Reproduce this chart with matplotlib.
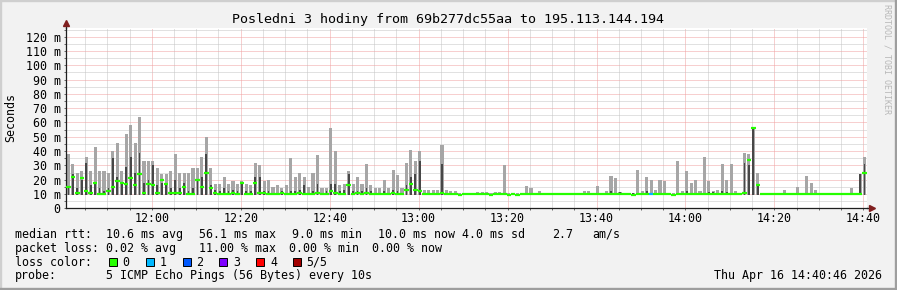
import numpy as np
import matplotlib
matplotlib.use("Agg")
import matplotlib.pyplot as plt
from matplotlib.patches import Rectangle
from matplotlib.lines import Line2D

# %% data (values in ms, one sample per minute starting 11:40:46)
start_time = "11:40:46"
x_labels = ["12:00", "12:20", "12:40", "13:00", "13:20", "13:40", "14:00", "14:20", "14:40"]
y_ticks = [0, 10, 20, 30, 40, 50, 60, 70, 80, 90, 100, 110, 120]
y_labels = ["0", "10 m", "20 m", "30 m", "40 m", "50 m", "60 m", "70 m",
            "80 m", "90 m", "100 m", "110 m", "120 m"]

smoke_floor = 9.0
smoke_max = [38, 31, 25, 26, 36, 26, 43, 26, 26, 25,
             40, 46, 26, 52, 58, 46, 64, 33, 33, 33,
             28, 24, 24, 26, 38, 25, 25, 25, 28, 28,
             36, 50, 28, 17, 17, 22, 17, 19, 17, 19,
             17, 16, 32, 30, 19, 20, 15, 16, 14, 16,
             35, 22, 25, 22, 15, 25, 37, 14, 14, 56,
             40, 16, 17, 26, 17, 22, 17, 31, 16, 14,
             14, 20, 14, 27, 23, 14, 32, 41, 33, 40,
             13, 13, 13, 13, 44, 12.5, 12, 12, 11, 11,
             11, 11, 11.5, 11.5, 11.5, 11, 11.5, 11.5, 30, 11,
             11, 10.5, 10.5, 15.6, 14, 10.5, 12, 10.5, 10.5, 10.5,
             10.5, 10.5, 10.5, 10.5, 10.5, 10.5, 12, 12, 10.5, 15.6,
             10.5, 12, 22.3, 21, 11.5, 10.5, 10.5, 11, 26.5, 12,
             22, 20, 13, 19.7, 19, 11, 11, 32.8, 12, 26,
             17.6, 19.7, 12, 36, 19, 12, 13, 31, 20, 31,
             12, 10.5, 38.6, 38, 57, 25, 10.5, 10.5, 10.5, 10.5,
             10.5, 12.5, 10.5, 10.5, 15, 10.5, 22.3, 17.6, 13, 10.5,
             10.5, 10.5, 10.5, 10.5, 10.5, 10.5, 14, 10.5, 24, 36]
smoke_dark = [15, 24, 14, 20, 32, 16, 18, 14, 12, 14,
              35, 22, 18, 29, 36, 25, 39, 18, 20, 30,
              16, 18, 17, 14, 20, 14, 18, 12, 14, 20,
              22, 38, 16, 13, 12, 14, 12, 13, 12, 18,
              12, 12, 22, 22, 12, 12, 11, 11, 12, 11,
              12, 12, 13, 16, 11, 12, 17, 11, 12, 17,
              17, 12, 13, 24, 12, 12, 12, 14, 12, 11,
              11, 12, 11, 13, 12, 11, 16, 22, 24, 33,
              11, 11, 11, 11, 31, 10.5, 10.5, 10.5, 10.3, 10.3,
              10.3, 10.3, 10.3, 10.3, 10.3, 10.3, 10.3, 10.3, 11, 10.3,
              10.3, 10.3, 10.3, 11, 11, 10.3, 10.5, 10.3, 10.3, 10.3,
              10.3, 10.3, 10.3, 10.3, 10.3, 10.3, 10.5, 10.5, 10.3, 11,
              10.3, 10.5, 12, 11, 11.5, 10.3, 10.3, 10.5, 11, 10.5,
              12, 11, 10.5, 11, 11, 10.3, 10.3, 11, 10.5, 12,
              11, 11, 10.5, 11, 11.5, 11.5, 11, 12, 11.5, 11,
              10.5, 10.3, 32, 30, 56, 16, 10.3, 10.3, 10.3, 10.3,
              10.3, 10.5, 10.3, 10.3, 10.5, 10.3, 11, 11, 10.5, 10.3,
              10.3, 10.3, 10.3, 10.3, 10.3, 10.3, 10.5, 10.3, 24, 31]
median_rtt = [15, 22, 11, 21, 12, 11, 18, 10, 10, 12,
              15, 19, 18, 17, 21, 16, 24, 11, 17, 16,
              11, 20, 17, 11, 11, 11, 15, 10, 10, 20,
              15, 25, 14, 11, 10, 10, 10, 11, 10, 18,
              10, 10, 18, 11, 11, 10, 10, 10, 11, 10,
              10, 10, 11, 10, 10, 10, 11, 10, 10, 12,
              11, 10, 10, 16, 10, 11, 10, 11, 10, 10,
              10, 10, 10, 11, 10, 10, 13, 17, 13, 12,
              10, 10, 10, 10, 10.5, 10, 10, 10, 9.5, 10,
              10, 10, 10, 10, 10, 9.5, 10, 10, 10, 9.5,
              10, 9.5, 10, 10, 10, 10, 10, 10, 10, 10,
              10, 10, 10, 9.8, 10, 10, 10, 10, 10, 10,
              10, 10, 10, 10, 10, 10, 10, 9.5, 10, 10,
              10, 10, 10, 10, 10, 10, 9.5, 10, 10, 10,
              10, 10, 10, 10, 10, 9.8, 10, 10, 10, 10,
              10, 10, 11, 34, 56, 16, 10, 10, 10, 10,
              10, 10, 10, 10, 10, 10, 10, 10, 10, 10,
              10, 10, 10, 10, 10, 10, 10, 10, 10, 25]
loss_minutes = [131]
loss_counts = [1]

loss_labels = ["0", "1", "2", "3", "4", "5/5"]
loss_colors = ["#26ff00", "#00b8ff", "#0059ff", "#7e00ff", "#ff0000", "#a10000"]

title = "Posledni 3 hodiny from 69b277dc55aa to 195.113.144.194"
stats_rtt = ["median rtt:", "10.6 ms avg", "56.1 ms max", "9.0 ms min",
             "10.0 ms now", "4.0 ms sd", "2.7", "am/s"]
stats_loss = ["packet loss:", "0.02 % avg", "11.00 % max", "0.00 % min", "0.00 % now"]
probe_text = "5 ICMP Echo Pings (56 Bytes) every 10s"
stamp = "Thu Apr 16 14:40:46 2026"

# %% figure setup
W, H = 897, 290
mono = "DejaVu Sans Mono"
plt.rcParams["font.family"] = mono
fig = plt.figure(figsize=(W / 100, H / 100), dpi=100, facecolor="#f2f2f2")

def px(x, y):
    return x / W, 1 - y / H

ax_l, ax_r, ax_t, ax_b = 66.2, 866.8, 28.1, 208.3
ax = fig.add_axes([ax_l / W, 1 - ax_b / H, (ax_r - ax_l) / W, (ax_b - ax_t) / H])
ax.set_facecolor("white")

n = len(median_rtt)
idx = np.arange(n)
ax.set_xlim(0, n)
ax.set_ylim(0, 126)

# smoke
smoke_max = np.array(smoke_max)
smoke_dark = np.array(smoke_dark)
ax.bar(idx + 0.5, smoke_max - smoke_floor, bottom=smoke_floor, width=0.7,
       color="#a6a6a6", linewidth=0, zorder=2)
ax.bar(idx + 0.5, smoke_dark - smoke_floor, bottom=smoke_floor, width=0.4,
       color="#474747", linewidth=0, zorder=3)

# median line coloured by loss
loss = np.zeros(n, dtype=int)
loss[loss_minutes] = loss_counts
ax.hlines(median_rtt, idx, idx + 1, colors=[loss_colors[k] for k in loss],
          linewidth=1.6, zorder=4)

# ticks / grid
h0, m0, s0 = [int(v) for v in start_time.split(":")]
t0 = h0 * 60 + m0 + s0 / 60
major_x = [int(l[:2]) * 60 + int(l[3:]) - t0 for l in x_labels]
minor_x = np.arange(major_x[0] - 15, n, 5)
minor_x = minor_x[minor_x > 0]
ax.set_xticks(major_x)
ax.set_xticklabels(x_labels)
ax.set_xticks(minor_x, minor=True)
ax.set_yticks(y_ticks)
ax.set_yticklabels(y_labels)
ax.set_yticks(np.arange(5, 126, 10), minor=True)

ax.grid(which="major", color="#f0a0a0", linestyle=(0, (1, 1)), linewidth=0.72)
ax.grid(which="minor", color="#c4c4c4", linestyle=(0, (1, 1)), linewidth=0.72)
ax.set_axisbelow(True)
ax.tick_params(which="both", length=1.5, width=0.7, color="#666666", labelsize=8.4, pad=2.5)
ax.tick_params(axis="x", which="both", pad=1.2)

for s in ["top", "right"]:
    ax.spines[s].set_visible(False)
for s in ["left", "bottom"]:
    ax.spines[s].set_color("#1f1f1f")
    ax.spines[s].set_linewidth(0.9)

# axis arrows
arrow_c = "#801f1f"
ax.plot([0, 0], [1, 1.02], transform=ax.transAxes, color="#1f1f1f", lw=0.9, clip_on=False)
ax.plot([0], [1.027], transform=ax.transAxes, marker="^", ms=4.5, color=arrow_c, clip_on=False)
ax.plot([1, 1.003], [0, 0], transform=ax.transAxes, color="#1f1f1f", lw=0.9, clip_on=False)
ax.plot([1.006], [0], transform=ax.transAxes, marker=">", ms=4.5, color=arrow_c, clip_on=False)

# texts
fig.text(*px(448, 19), title, ha="center", va="center", fontsize=9.6)
fig.text(*px(10.5, 118), "Seconds", rotation=90, ha="center", va="center", fontsize=8.4)
fig.text(*px(886.5, 59), "RRDTOOL / TOBI OETIKER", rotation=270, ha="center", va="center",
         fontsize=6, color="#b8b8b8")

rtt_x = [16, 107.3, 200, 293.3, 379.3, 462.7, 552.7, 593.3]
for s, x in zip(stats_rtt, rtt_x):
    fig.text(*px(x - 1, 234.3), s, va="center", fontsize=8.4)
loss_x = [16, 107.3, 200, 290, 372.7]
for s, x in zip(stats_loss, loss_x):
    fig.text(*px(x - 1, 248.3), s, va="center", fontsize=8.4)

fig.text(*px(15, 262.3), "loss color:", va="center", fontsize=8.4)
box_x = [108.5, 145.5, 182.5, 219.3, 256, 292.7]
for lab, col, bx in zip(loss_labels, loss_colors, box_x):
    fx, fy = px(bx, 266.3)
    fig.add_artist(Rectangle((fx, fy), 8 / W, 8 / H, transform=fig.transFigure,
                             facecolor=col, edgecolor="black", linewidth=0.7))
    fig.text(*px(bx + 14, 262.3), lab, va="center", fontsize=8.4)

fig.text(*px(15, 276), "probe:", va="center", fontsize=8.4)
fig.text(*px(106.3, 276), probe_text, va="center", fontsize=8.4)
fig.text(*px(881.5, 276), stamp, ha="right", va="center", fontsize=8.4)

# outer frame (rrdtool shade)
for xs, ys, c in [([0, 1], [1 - 1 / H, 1 - 1 / H], "#cfcfcf"),
                  ([1 / W, 1 / W], [0, 1], "#cfcfcf"),
                  ([0, 1], [1.2 / H, 1.2 / H], "#9e9e9e"),
                  ([1 - 1.2 / W, 1 - 1.2 / W], [0, 1], "#9e9e9e")]:
    fig.add_artist(Line2D(xs, ys, transform=fig.transFigure, color=c, lw=1.7))

fig.savefig("out.png", dpi=100, facecolor=fig.get_facecolor())
